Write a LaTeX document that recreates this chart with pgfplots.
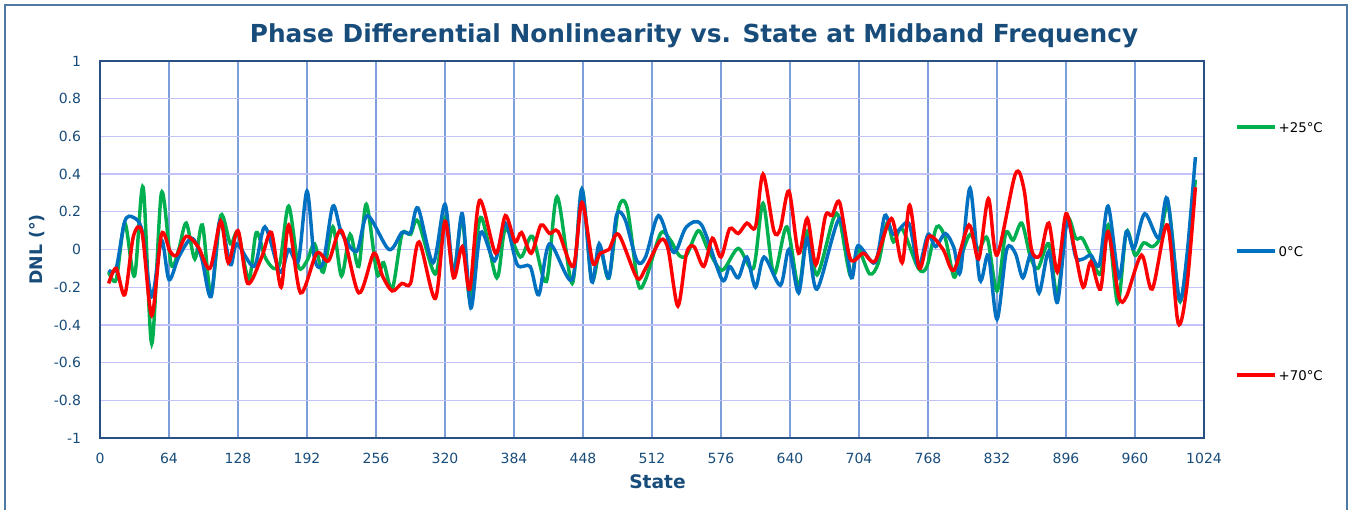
\documentclass[border=0pt]{standalone}
\usepackage{pgfplots}
\pgfplotsset{compat=1.18}
\usepackage{fontspec}
\setmainfont{DejaVu Sans}
\definecolor{tcol}{RGB}{24,76,122}
\definecolor{gcol}{RGB}{0,176,80}
\definecolor{bcol}{RGB}{0,112,192}
\definecolor{rcol}{RGB}{255,0,0}
\definecolor{vgrid}{RGB}{125,160,220}
\definecolor{hgrid}{RGB}{195,195,250}
\definecolor{axcol}{RGB}{40,80,130}
\definecolor{framecol}{RGB}{80,120,165}
\begin{document}
\begin{tikzpicture}
\useasboundingbox (0pt,0pt) rectangle (1014.75pt,-382.5pt);
\draw[framecol, line width=1pt] (3.75pt,-3.75pt) rectangle (1010.25pt,-400pt);
\node[font=\bfseries\fontsize{18.6}{22}\selectfont, text=tcol] at (520.5pt,-27pt) {Phase Differential Nonlinearity vs. State at Midband Frequency};
\begin{axis}[
  at={(75pt,-328.5pt)}, anchor=south west,
  scale only axis, width=828pt, height=282.75pt,
  xmin=0, xmax=1024, ymin=-1, ymax=1,
  xtick={0,64,128,192,256,320,384,448,512,576,640,704,768,832,896,960,1024},
  ytick={-1,-0.8,-0.6,-0.4,-0.2,0,0.2,0.4,0.6,0.8,1},
  /pgf/number format/assume math mode=true,
  /pgf/number format/.cd, fixed, precision=1, 1000 sep={}, /pgfplots/.cd,
  tick style={draw=none},
  ticklabel style={font=\fontsize{10.5}{12}\selectfont, text=tcol},
  yticklabel style={inner sep=0pt, anchor=east, xshift=-14pt},
  xticklabel style={inner sep=0pt, anchor=north, yshift=-11pt},
  xmajorgrids=true, ymajorgrids=true,
  x grid style={vgrid, line width=1pt},
  y grid style={hgrid, line width=1pt},
  axis line style={axcol, line width=1.2pt},
  xlabel={State}, ylabel={DNL (°)},
  xlabel style={font=\bfseries\fontsize{14}{16}\selectfont, text=tcol, at={(axis description cs:0.505,-0.117)}, anchor=center},
  ylabel style={font=\bfseries\fontsize{13}{15}\selectfont, text=tcol, at={(axis description cs:-0.057,0.5)}, anchor=center},
  legend style={at={(axis description cs:1.028,0.496)}, anchor=west, draw=none, fill=none, inner sep=0pt,
    row sep=82.5pt, font=\fontsize{10}{12}\selectfont,
    nodes={text height=7.5pt, text depth=0pt, inner sep=1.5pt}},
  legend cell align=left,
  legend image code/.code={\draw[#1] (0pt,0pt) -- (28.5pt,0pt);},
  every axis plot/.append style={line width=2.6pt, smooth, tension=0.5, no markers},
]
\addplot[gcol] coordinates {
(8,-0.12) (15,-0.16) (23,0.14) (32,-0.14) (40,0.33) (48,-0.50) (57,0.30) (66,-0.08) (73,0.0) (80,0.14) (88,-0.05) (95,0.13) (103,-0.24) (112,0.18) (121,0.03) (128,0.09) (138,-0.16) (145,0.09) (153,-0.04) (161,-0.10) (167,-0.07) (175,0.23) (184,-0.09) (192,-0.06) (199,0.03) (207,-0.12) (216,0.12) (224,-0.14) (232,0.08) (240,-0.09) (247,0.24) (257,-0.13) (263,-0.07) (271,-0.21) (280,0.08) (288,0.08) (295,0.15) (311,-0.13) (320,0.17) (328,-0.12) (336,0.17) (343,-0.26) (353,0.17) (368,-0.15) (376,0.11) (390,-0.04) (401,0.07) (414,-0.17) (424,0.28) (438,-0.18) (447,0.32) (456,-0.16) (464,0.0) (472,-0.15) (481,0.22) (489,0.22) (499,-0.18) (506,-0.16) (520,0.085) (529,0.05) (537,-0.03) (544,-0.03) (555,0.10) (564,0.0) (577,-0.11) (592,0.006) (606,-0.10) (615,0.245) (625,-0.13) (637,0.12) (648,-0.20) (656,0.095) (665,-0.135) (680,0.16) (686,0.16) (696,-0.14) (703,0.0) (714,-0.13) (722,-0.07) (730,0.14) (736,0.04) (744,0.11) (759,-0.10) (767,-0.09) (776,0.12) (784,0.06) (792,-0.145) (798,-0.05) (807,0.08) (815,0.0) (823,0.06) (832,-0.22) (840,0.085) (847,0.05) (855,0.14) (863,-0.04) (870,-0.10) (880,0.03) (888,-0.24) (897,0.16) (905,0.06) (911,0.06) (918,-0.02) (928,-0.13) (935,0.13) (944,-0.285) (952,0.095) (960,-0.03) (968,0.035) (976,0.015) (983,0.06) (991,0.23) (1001,-0.27) (1008,-0.07) (1016,0.37)
};
\addlegendentry{+25°C}
\addplot[bcol] coordinates {
(8,-0.11) (15,-0.10) (23,0.15) (31,0.17) (39,0.10) (48,-0.25) (57,0.05) (64,-0.16) (73,-0.04) (85,0.06) (94,-0.04) (103,-0.25) (111,0.15) (121,-0.08) (127,0.03) (143,-0.09) (153,0.12) (167,-0.12) (175,0.0) (184,-0.06) (192,0.31) (199,-0.05) (207,-0.07) (216,0.23) (224,0.09) (238,-0.01) (248,0.18) (268,0.0) (280,0.09) (288,0.09) (295,0.22) (309,-0.07) (320,0.24) (328,-0.14) (336,0.19) (344,-0.31) (353,0.09) (366,-0.06) (376,0.14) (387,-0.08) (399,-0.09) (407,-0.24) (417,0.03) (438,-0.16) (447,0.32) (456,-0.17) (463,0.03) (472,-0.15) (479,0.18) (487,0.16) (498,-0.06) (506,-0.04) (518,0.18) (530,0.0) (535,0.0) (544,0.12) (558,0.13) (577,-0.16) (584,-0.09) (592,-0.15) (600,-0.04) (608,-0.20) (616,-0.04) (631,-0.19) (639,0.0) (648,-0.23) (656,0.06) (665,-0.21) (686,0.165) (697,-0.15) (703,0.02) (719,-0.07) (728,0.18) (736,0.08) (750,0.14) (759,-0.09) (768,0.08) (775,0.015) (784,0.085) (792,0.01) (798,-0.12) (807,0.325) (816,-0.16) (824,-0.03) (832,-0.37) (841,0.0) (849,-0.02) (856,-0.15) (864,-0.02) (871,-0.23) (880,-0.01) (888,-0.28) (897,0.15) (905,-0.04) (912,-0.05) (919,-0.03) (927,-0.08) (935,0.23) (945,-0.15) (952,0.095) (959,0.006) (969,0.19) (982,0.06) (990,0.27) (1001,-0.26) (1008,-0.04) (1016,0.49)
};
\addlegendentry{0°C}
\addplot[rcol] coordinates {
(8,-0.18) (15,-0.10) (23,-0.24) (31,0.07) (39,0.09) (48,-0.35) (57,0.08) (65,-0.01) (71,-0.03) (80,0.07) (91,0.015) (102,-0.10) (112,0.15) (119,-0.07) (128,0.10) (137,-0.18) (150,-0.04) (159,0.09) (168,-0.20) (175,0.13) (186,-0.23) (201,-0.02) (212,-0.06) (224,0.10) (240,-0.23) (254,-0.02) (262,-0.14) (271,-0.22) (280,-0.18) (288,-0.18) (296,0.04) (311,-0.26) (320,0.15) (328,-0.15) (336,0.015) (343,-0.21) (352,0.26) (367,-0.02) (376,0.18) (385,0.04) (391,0.09) (400,-0.02) (409,0.13) (417,0.085) (425,0.095) (439,-0.09) (447,0.25) (457,-0.07) (464,-0.02) (472,0.0) (481,0.08) (498,-0.15) (506,-0.10) (520,0.05) (527,0.0) (536,-0.30) (544,-0.02) (551,0.015) (560,-0.09) (568,0.06) (576,-0.04) (584,0.11) (592,0.085) (600,0.14) (608,0.12) (615,0.40) (625,0.10) (631,0.11) (639,0.31) (648,-0.02) (656,0.165) (664,-0.08) (673,0.18) (679,0.18) (686,0.25) (696,-0.05) (708,-0.02) (719,-0.06) (734,0.165) (744,-0.07) (751,0.235) (760,-0.10) (769,0.07) (782,0.0) (792,-0.11) (806,0.13) (815,-0.05) (824,0.27) (832,-0.03) (849,0.40) (857,0.32) (864,0.0) (872,-0.03) (880,0.14) (888,-0.12) (896,0.19) (904,0.0) (912,-0.20) (919,-0.065) (928,-0.21) (935,0.095) (945,-0.25) (952,-0.25) (966,-0.03) (976,-0.21) (990,0.13) (1000,-0.39) (1008,-0.20) (1016,0.33)
};
\addlegendentry{+70°C}
\end{axis}
\end{tikzpicture}
\end{document}
